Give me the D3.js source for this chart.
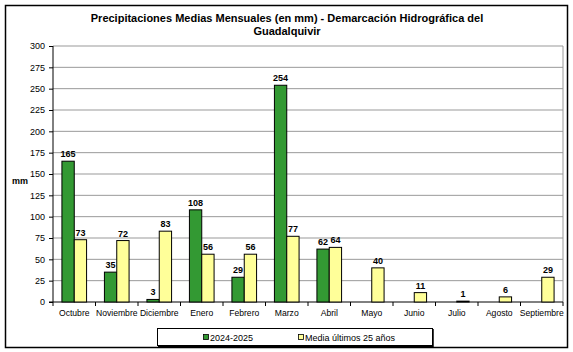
<!DOCTYPE html>
<html>
<head>
<meta charset="utf-8">
<script src="https://cdn.jsdelivr.net/npm/d3@7"></script>
<style>
body { margin: 0; background: #fff; }
text { font-family: "Liberation Sans", Arial, sans-serif; }
</style>
</head>
<body>
<svg id="chart" width="573" height="352"></svg>
<script>
var months = ["Octubre", "Noviembre", "Diciembre", "Enero", "Febrero", "Marzo",
    "Abril", "Mayo", "Junio", "Julio", "Agosto", "Septiembre"];
var actual = [165, 35, 3, 108, 29, 254, 62, null, null, null, null, null];
var media = [73, 72, 83, 56, 56, 77, 64, 40, 11, 1, 6, 29];
var yTicks = [0, 25, 50, 75, 100, 125, 150, 175, 200, 225, 250, 275, 300];
var seriesNames = ["2024-2025", "Media últimos 25 años"];
var colors = ["#339933", "#ffff99"];

var svg = d3.select("#chart");
var pLeft = 53, pRight = 563, pTop = 46, pBottom = 302;

// marco exterior
svg.append("rect").attr("x", 5.5).attr("y", 5.5).attr("width", 562).attr("height", 342)
    .attr("fill", "#fff").attr("stroke", "#000").attr("stroke-width", 1.5);

svg.append("text").attr("x", 287).attr("y", 22).attr("text-anchor", "middle")
    .attr("font-size", 11).attr("font-weight", "bold")
    .text("Precipitaciones Medias Mensuales (en mm) - Demarcación Hidrográfica del");
svg.append("text").attr("x", 287).attr("y", 35).attr("text-anchor", "middle")
    .attr("font-size", 11).attr("font-weight", "bold").text("Guadalquivir");

var x = d3.scaleBand().domain(months).range([pLeft, pRight]);
var y = d3.scaleLinear().domain([0, 300]).range([pBottom, pTop]);
var bw = x.bandwidth() * 0.29;

// rejilla
svg.append("g").selectAll("line").data(yTicks.slice(1)).enter().append("line")
    .attr("x1", pLeft).attr("x2", pRight)
    .attr("y1", d => y(d)).attr("y2", d => y(d))
    .attr("stroke", "#999").attr("stroke-width", 1);
svg.append("line").attr("x1", pRight).attr("x2", pRight).attr("y1", pTop).attr("y2", pBottom)
    .attr("stroke", "#999");

var yAxis = svg.append("g").attr("transform", "translate(" + pLeft + ",0)")
    .call(d3.axisLeft(y).tickValues(yTicks).tickSize(4).tickPadding(4));
yAxis.select(".domain").attr("d", "M0," + pTop + "V" + pBottom);
yAxis.selectAll("text").attr("font-size", 9).attr("font-family", "Liberation Sans, Arial, sans-serif");

svg.append("text").attr("x", 20).attr("y", 184).attr("text-anchor", "middle")
    .attr("font-size", 9).attr("font-weight", "bold").text("mm");

var xAxis = svg.append("g").attr("transform", "translate(0," + pBottom + ")")
    .call(d3.axisBottom(x).tickSize(0).tickPadding(8));
xAxis.select(".domain").remove();
xAxis.selectAll("text").attr("font-size", 8.6).attr("font-family", "Liberation Sans, Arial, sans-serif");
// marcas entre categorías
svg.append("g").selectAll("line").data(d3.range(months.length + 1)).enter().append("line")
    .attr("x1", d => pLeft + d * x.step()).attr("x2", d => pLeft + d * x.step())
    .attr("y1", pBottom).attr("y2", pBottom + 4).attr("stroke", "#000");
svg.append("line").attr("x1", pLeft - 4).attr("x2", pRight).attr("y1", pBottom).attr("y2", pBottom)
    .attr("stroke", "#000");

[actual, media].forEach(function (vals, si) {
    var g = svg.append("g");
    var data = months.map((m, i) => ({ m: m, v: vals[i] })).filter(d => d.v != null);
    g.selectAll("rect").data(data).enter().append("rect")
        .attr("x", d => x(d.m) + x.bandwidth() / 2 - bw + si * bw)
        .attr("y", d => y(d.v))
        .attr("width", bw)
        .attr("height", d => pBottom - y(d.v))
        .attr("fill", colors[si]).attr("stroke", "#000").attr("stroke-width", 1);
    g.selectAll("text").data(data).enter().append("text")
        .attr("x", d => x(d.m) + x.bandwidth() / 2 - bw / 2 + si * bw)
        .attr("y", d => y(d.v) - 4)
        .attr("text-anchor", "middle").attr("font-size", 9).attr("font-weight", "bold")
        .text(d => d.v);
});

// leyenda
svg.append("rect").attr("x", 157.5).attr("y", 328.5).attr("width", 275).attr("height", 17)
    .attr("fill", "#fff").attr("stroke", "#000");
svg.append("line").attr("x1", 433).attr("x2", 433).attr("y1", 329).attr("y2", 347).attr("stroke", "#000").attr("stroke-width", 1.5);
svg.append("line").attr("x1", 158).attr("x2", 433).attr("y1", 346.5).attr("y2", 346.5).attr("stroke", "#000").attr("stroke-width", 1.5);
var legX = [203, 298];
seriesNames.forEach(function (n, i) {
    svg.append("rect").attr("x", legX[i] + 0.5).attr("y", 334.5).attr("width", 5).attr("height", 5)
        .attr("fill", colors[i]).attr("stroke", "#000").attr("stroke-width", 0.8);
    svg.append("text").attr("x", legX[i] + 7).attr("y", 340.5).attr("font-size", 9).text(n);
});
</script>
</body>
</html>
